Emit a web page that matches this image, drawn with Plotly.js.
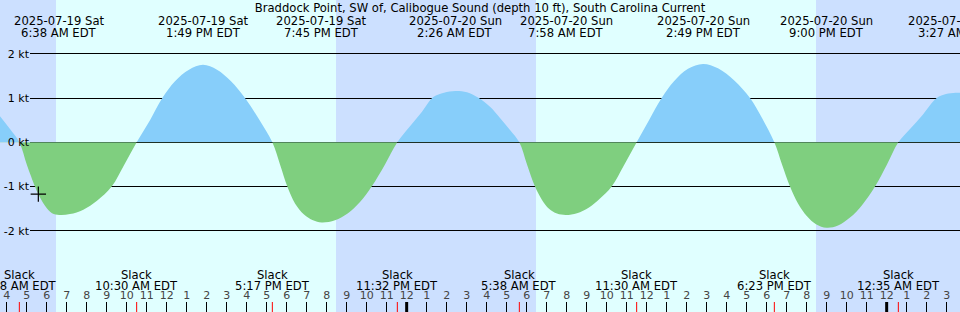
<!DOCTYPE html>
<html>
<head>
<meta charset="utf-8">
<script src="https://cdn.plot.ly/plotly-3.0.1.min.js"></script>
<style>html,body{margin:0;padding:0;background:#cce0ff;}#chart{width:960px;height:312px;}</style>
</head>
<body>
<div id="chart"></div>
<script>
// ---- data ----
const chartTitle = 'Braddock Point, SW of, Calibogue Sound (depth 10 ft), South Carolina Current';
const rangeStart = '2025-07-19 03:40';
const rangeEnd = '2025-07-21 03:40';

// maximum flood / ebb events
const maxTimes = ['2025-07-19 06:38','2025-07-19 13:49','2025-07-19 19:45','2025-07-20 02:26','2025-07-20 07:58','2025-07-20 14:49','2025-07-20 21:00','2025-07-21 03:27'];
const maxSpeeds = [-1.64, 1.75, -1.81, 1.16, -1.64, 1.77, -1.93, 1.12];
const maxDays = ['2025-07-19 Sat','2025-07-19 Sat','2025-07-19 Sat','2025-07-20 Sun','2025-07-20 Sun','2025-07-20 Sun','2025-07-20 Sun','2025-07-21 Mon'];
const maxClock = ['6:38 AM EDT','1:49 PM EDT','7:45 PM EDT','2:26 AM EDT','7:58 AM EDT','2:49 PM EDT','9:00 PM EDT','3:27 AM EDT'];

// slack water events
const slackTimes = ['2025-07-19 04:38','2025-07-19 10:30','2025-07-19 17:17','2025-07-19 23:32','2025-07-20 05:38','2025-07-20 11:30','2025-07-20 18:23','2025-07-21 00:35'];
const slackClock = ['4:38 AM EDT','10:30 AM EDT','5:17 PM EDT','11:32 PM EDT','5:38 AM EDT','11:30 AM EDT','6:23 PM EDT','12:35 AM EDT'];

// extra curve readings between events (knots)
const readTimes = [
  '2025-07-19 03:40','2025-07-19 04:10','2025-07-19 05:01','2025-07-19 05:25','2025-07-19 05:35','2025-07-19 05:55','2025-07-19 06:16',
  '2025-07-19 07:10','2025-07-19 07:50','2025-07-19 08:31','2025-07-19 09:15','2025-07-19 09:52',
  '2025-07-19 11:10','2025-07-19 11:47','2025-07-19 12:25','2025-07-19 13:07','2025-07-19 14:31','2025-07-19 15:13','2025-07-19 15:55','2025-07-19 16:37',
  '2025-07-19 17:40','2025-07-19 18:02','2025-07-19 18:25','2025-07-19 18:52','2025-07-19 19:19','2025-07-19 20:25','2025-07-19 21:04','2025-07-19 21:40','2025-07-19 22:15','2025-07-19 22:55',
  '2025-07-20 00:10','2025-07-20 00:46','2025-07-20 01:20','2025-07-20 01:52','2025-07-20 03:01','2025-07-20 03:34','2025-07-20 04:10','2025-07-20 04:40','2025-07-20 05:10',
  '2025-07-20 06:01','2025-07-20 06:25','2025-07-20 06:46','2025-07-20 07:07','2025-07-20 07:31','2025-07-20 08:31','2025-07-20 09:07','2025-07-20 09:40','2025-07-20 10:15','2025-07-20 10:52',
  '2025-07-20 12:07','2025-07-20 12:45','2025-07-20 13:22','2025-07-20 14:04','2025-07-20 15:34','2025-07-20 16:22','2025-07-20 17:10','2025-07-20 17:46',
  '2025-07-20 18:46','2025-07-20 19:10','2025-07-20 19:34','2025-07-20 20:01','2025-07-20 20:28','2025-07-20 21:34','2025-07-20 22:10','2025-07-20 22:46','2025-07-20 23:25',
  '2025-07-21 00:01','2025-07-21 01:10','2025-07-21 01:49','2025-07-21 02:30','2025-07-21 02:58','2025-07-21 03:55'
];
const readSpeeds = [
  0.59, 0.30, -0.52, -1.0, -1.17, -1.43, -1.60,
  -1.62, -1.52, -1.32, -1.0, -0.52,
  0.50, 1.0, 1.38, 1.64, 1.64, 1.38, 1.0, 0.52,
  -0.50, -1.0, -1.38, -1.63, -1.76, -1.76, -1.60, -1.35, -1.0, -0.50,
  0.36, 0.69, 1.02, 1.12, 1.13, 1.01, 0.80, 0.55, 0.28,
  -0.50, -1.0, -1.30, -1.50, -1.61, -1.60, -1.47, -1.27, -1.0, -0.52,
  0.50, 1.0, 1.38, 1.66, 1.67, 1.40, 1.0, 0.55,
  -0.50, -1.0, -1.38, -1.67, -1.85, -1.88, -1.70, -1.42, -1.0,
  -0.50, 0.30, 0.63, 1.0, 1.09, 1.11
];

// current time marker
const nowTime = ['2025-07-19 05:35'];
const nowSpeed = [-1.17];

// daylight
const sunriseTimes = ['2025-07-19 06:28','2025-07-20 06:28'];
const sunsetTimes = ['2025-07-19 20:28','2025-07-20 20:28'];
const midnightTimes = ['2025-07-20 00:00','2025-07-21 00:00'];

// y axis
const yTickVals = [-2, -1, 0, 1, 2];
const yTickText = ['-2 kt', '-1 kt', '0 kt', '1 kt', '2 kt'];

// ---- build ----
const W = 960, H = 312;
const zeroPx = 142.3, pxPerKt = 44.3;
const yTop = zeroPx / pxPerKt;
const yBot = -(H - zeroPx) / pxPerKt;
const zFrac = (H - zeroPx) / H;

const toMs = s => new Date(s.replace(' ', 'T') + ':00Z').getTime();
let pts = [];
slackTimes.forEach(t => pts.push([t, 0]));
maxTimes.forEach((t, i) => pts.push([t, maxSpeeds[i]]));
readTimes.forEach((t, i) => pts.push([t, readSpeeds[i]]));
pts.sort((a, b) => toMs(a[0]) - toMs(b[0]));
const cx = pts.map(p => p[0]);
const cy = pts.map(p => p[1]);

const FLOOD = '#87cefa', EBB = '#7fcf7f', DAY = '#e0ffff', NIGHT = '#cce0ff';
const FONT = 'DejaVu Sans, Verdana, sans-serif';
const LBL = 11.6;

const traces = [
  // grid subplot (below the fills)
  {x: [0.5], y: [null], xaxis: 'x', yaxis: 'y', type: 'scatter', mode: 'lines', hoverinfo: 'skip'},
  {x: cx, y: cy, xaxis: 'x2', yaxis: 'y2', type: 'scatter', mode: 'lines',
   line: {width: 0, shape: 'spline', smoothing: 1, color: FLOOD}, fill: 'tozeroy', fillcolor: FLOOD, hoverinfo: 'skip'},
  {x: cx, y: cy, xaxis: 'x2', yaxis: 'y3', type: 'scatter', mode: 'lines',
   line: {width: 0, shape: 'spline', smoothing: 1, color: EBB}, fill: 'tozeroy', fillcolor: EBB, hoverinfo: 'skip'},
  {x: nowTime, y: nowSpeed, xaxis: 'x2', yaxis: 'y3', type: 'scatter', mode: 'markers',
   marker: {symbol: 'cross-thin', size: 11, line: {width: 1.2, color: '#000'}, color: '#000'}, cliponaxis: false, hoverinfo: 'skip'},
  // label subplot (above the fills)
  {x: [0.5], y: [null], xaxis: 'x4', yaxis: 'y4', type: 'scatter', mode: 'lines', hoverinfo: 'skip'}
];

const shapes = [];
sunriseTimes.forEach((t, i) => shapes.push({type: 'rect', xref: 'x2', yref: 'paper', x0: t, x1: sunsetTimes[i], y0: 0, y1: 1,
  fillcolor: DAY, line: {width: 0}, layer: 'below'}));
slackTimes.forEach(t => shapes.push({type: 'line', xref: 'x2', yref: 'paper', x0: t, x1: t, y0: 0, y1: 10 / H,
  line: {color: '#ff0000', width: 1}}));
midnightTimes.forEach(t => shapes.push({type: 'line', xref: 'x2', yref: 'paper', x0: t, x1: t, y0: 0, y1: 10 / H,
  line: {color: '#000', width: 3}}));

const annotations = [];
const py = px => 1 - px / H;
maxTimes.forEach((t, i) => {
  annotations.push({x: t, xref: 'x2', y: py(21.3), yref: 'paper', text: maxDays[i], showarrow: false, xanchor: 'center', yanchor: 'middle', font: {size: LBL}});
  annotations.push({x: t, xref: 'x2', y: py(33.3), yref: 'paper', text: maxClock[i], showarrow: false, xanchor: 'center', yanchor: 'middle', font: {size: LBL}});
});
slackTimes.forEach((t, i) => {
  annotations.push({x: t, xref: 'x2', y: py(274.5), yref: 'paper', text: 'Slack', showarrow: false, xanchor: 'center', yanchor: 'middle', font: {size: LBL}});
  annotations.push({x: t, xref: 'x2', y: py(286), yref: 'paper', text: slackClock[i], showarrow: false, xanchor: 'center', yanchor: 'middle', font: {size: LBL}});
});

const layout = {
  width: W, height: H,
  margin: {l: 0, r: 0, t: 0, b: 0, pad: 0},
  paper_bgcolor: NIGHT, plot_bgcolor: 'rgba(0,0,0,0)',
  showlegend: false,
  font: {family: FONT, size: 11, color: '#000'},
  title: {text: chartTitle, font: {family: FONT, size: LBL, color: '#000'}, x: 0.5, xref: 'paper', xanchor: 'center', y: 1 - 7.5 / H, yref: 'container', yanchor: 'middle'},
  xaxis: {domain: [30 / W, 1], anchor: 'y', range: [0, 1], showgrid: false, zeroline: false, showticklabels: false, ticks: '', showline: false, fixedrange: true},
  yaxis: {domain: [0, 1], anchor: 'x', range: [yBot, yTop], tickmode: 'array', tickvals: yTickVals,
    showgrid: true, gridcolor: '#000', gridwidth: 1, zeroline: false, showline: false, ticks: '', showticklabels: false, fixedrange: true},
  xaxis2: {domain: [0, 1], anchor: 'y3', type: 'date', range: [rangeStart, rangeEnd], tick0: '2025-07-19 00:00', dtick: 3600000,
    tickformat: '%-I', ticks: 'inside', ticklen: 10, tickwidth: 1, tickcolor: '#000', ticklabelposition: 'inside', ticklabeloverflow: 'allow',
    showgrid: false, zeroline: false, showline: false, tickfont: {size: 11}, fixedrange: true},
  yaxis2: {domain: [zFrac, 1], anchor: 'x2', range: [0, yTop], visible: false, fixedrange: true},
  yaxis3: {domain: [0, zFrac], anchor: 'x2', range: [yBot, 0], visible: false, fixedrange: true},
  xaxis4: {domain: [30 / W, 1], anchor: 'y4', range: [0, 1], showgrid: false, zeroline: false, showticklabels: false, ticks: '', showline: false, fixedrange: true},
  yaxis4: {domain: [0, 1], anchor: 'x4', range: [yBot, yTop], tickmode: 'array', tickvals: yTickVals, ticktext: yTickText,
    showgrid: false, zeroline: false, showline: false, ticks: '', tickfont: {size: 11}, fixedrange: true},
  shapes: shapes,
  annotations: annotations
};

Plotly.newPlot('chart', traces, layout, {staticPlot: true, displayModeBar: false});
</script>
</body>
</html>
